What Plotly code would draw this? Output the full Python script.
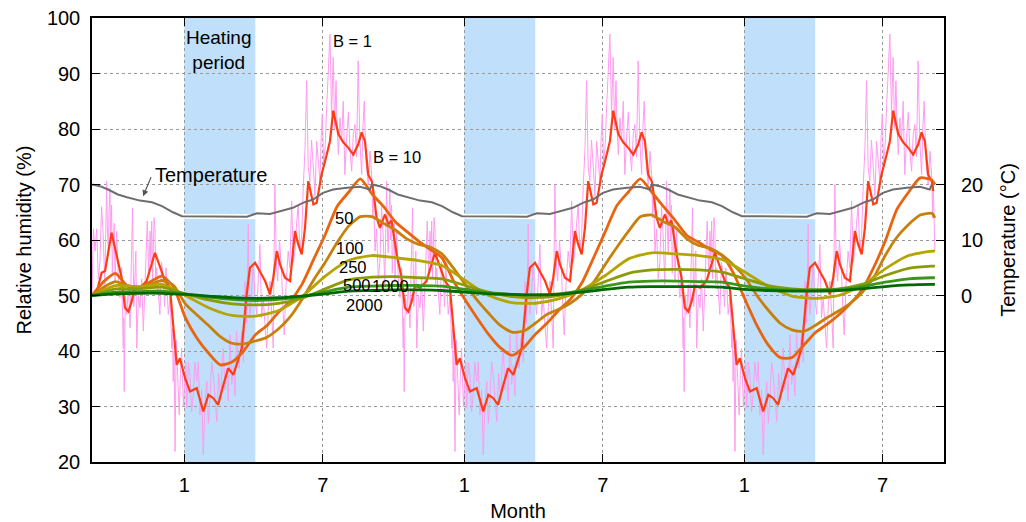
import plotly.graph_objects as go

# ---------------- axis / period definitions (x in months from left edge) ----------------
month_tick_pos = [3.956, 9.89, 15.956, 21.89, 27.956, 33.89]
month_tick_text = ["1", "7", "1", "7", "1", "7"]
heating_start = [3.956, 15.956, 27.956]
heating_end = [7.0, 19.0, 31.0]
data_end = 36.13
cycle_len = 12.0

# ---------------- B = 1 (raw relative humidity), one yearly cycle, repeated ----------------
b1_m = [0.00, 0.03, 0.06, 0.13, 0.20, 0.27, 0.34, 0.41, 0.48, 0.55, 0.63, 0.66, 0.70, 0.73, 0.77,
        0.80, 0.84, 0.87, 0.91, 0.95, 0.99, 1.02, 1.06, 1.13, 1.20, 1.27, 1.34, 1.36, 1.38, 1.43,
        1.49, 1.56, 1.63, 1.68, 1.74, 1.79, 1.84, 1.88, 1.92, 1.99, 2.06, 2.13, 2.20, 2.28, 2.37,
        2.43, 2.49, 2.52, 2.56, 2.60, 2.63, 2.66, 2.70, 2.73, 2.77, 2.84, 2.91, 2.98, 3.06, 3.11,
        3.17, 3.22, 3.27, 3.35, 3.42, 3.45, 3.48, 3.52, 3.56, 3.61, 3.66, 3.70, 3.74, 3.79, 3.84,
        3.92, 3.99, 4.02, 4.06, 4.13, 4.20, 4.27, 4.34, 4.41, 4.49, 4.56, 4.63, 4.70, 4.77, 4.84,
        4.92, 4.99, 5.06, 5.13, 5.20, 5.27, 5.35, 5.43, 5.52, 5.57, 5.63, 5.70, 5.77, 5.84, 5.92,
        5.99, 6.06, 6.13, 6.20, 6.25, 6.31, 6.36, 6.42, 6.49, 6.56, 6.63, 6.70, 6.73, 6.77, 6.84,
        6.91, 6.98, 7.06, 7.13, 7.20, 7.27, 7.34, 7.41, 7.49, 7.56, 7.63, 7.70, 7.77, 7.80, 7.84,
        7.90, 7.96, 8.04, 8.13, 8.18, 8.24, 8.32, 8.41, 8.48, 8.56, 8.63, 8.70, 8.77, 8.84, 8.91,
        8.99, 9.06, 9.13, 9.20, 9.27, 9.34, 9.41, 9.49, 9.56, 9.63, 9.70, 9.77, 9.82, 9.87, 9.93,
        9.99, 10.06, 10.13, 10.20, 10.27, 10.34, 10.40, 10.46, 10.51, 10.56, 10.63, 10.70, 10.77,
        10.84, 10.91, 10.99, 11.06, 11.13, 11.20, 11.27, 11.34, 11.41, 11.48, 11.56, 11.61, 11.67,
        11.75, 11.84, 11.92, 11.99]
b1_rh = [71.0, 64.0, 70.0, 58.0, 62.0, 53.0, 56.0, 66.0, 61.0, 52.0, 70.6, 62.0, 57.7, 65.0, 69.3,
         60.0, 66.3, 54.0, 58.0, 63.0, 52.6, 57.0, 61.6, 53.0, 49.6, 55.0, 40.5, 46.0, 32.7, 50.0,
         46.6, 52.0, 44.2, 55.0, 65.8, 48.0, 52.6, 58.0, 40.5, 50.0, 47.8, 53.0, 43.6, 55.0, 63.4,
         54.0, 61.6, 56.0, 63.4, 53.0, 58.0, 64.0, 62.2, 52.0, 55.0, 50.0, 46.6, 56.0, 53.2, 48.0,
         55.0, 51.0, 46.6, 50.0, 40.5, 44.0, 34.5, 40.0, 21.9, 42.0, 37.5, 32.0, 28.5, 36.0, 40.5,
         30.0, 34.5, 38.0, 29.7, 38.0, 35.7, 29.0, 32.1, 38.0, 34.5, 38.0, 28.5, 33.0, 21.3, 30.0,
         34.5, 27.0, 31.5, 38.0, 35.7, 31.0, 27.3, 36.0, 31.5, 37.0, 40.5, 33.0, 36.9, 31.0, 42.9,
         34.0, 37.5, 32.0, 43.6, 39.0, 36.9, 41.0, 43.6, 38.0, 52.6, 45.0, 62.8, 50.0, 46.6, 51.0,
         55.6, 50.0, 46.6, 53.0, 59.2, 46.0, 49.6, 45.0, 40.5, 48.0, 52.6, 47.0, 40.5, 55.0, 70.0,
         56.0, 52.6, 60.0, 53.8, 48.0, 42.9, 52.0, 58.0, 55.0, 67.0, 56.0, 58.0, 63.0, 66.4, 58.0,
         61.0, 70.0, 76.3, 88.7, 73.0, 70.6, 78.0, 73.0, 68.0, 77.8, 74.0, 70.6, 78.0, 82.6, 74.0,
         76.6, 84.0, 91.7, 97.1, 82.6, 92.9, 80.0, 88.7, 80.0, 75.4, 82.0, 77.8, 85.0,
         71.8, 78.0, 83.0, 76.0, 72.4, 79.0, 80.8, 75.0, 92.3, 78.0, 71.8, 80.0, 85.0,
         74.0, 70.0, 76.0, 71.8]
# very start of the record (first year only)
b1_first_m = [0.00, 0.03, 0.06]
b1_first_rh = [50.0, 56.0, 62.0]

# ---------------- B = 10, one yearly cycle (steady), plus start of the first year ----------------
b10_m = [0.0, 0.06, 0.20, 0.34, 0.56, 0.70, 0.84, 1.06, 1.27, 1.41, 1.56, 1.70, 1.84, 2.06, 2.34,
         2.70, 2.91, 3.13, 3.34, 3.48, 3.63, 3.77, 3.99, 4.20, 4.49, 4.77, 4.99, 5.20, 5.41, 5.63,
         5.84, 6.06, 6.27, 6.42, 6.63, 6.77, 6.99, 7.20, 7.42, 7.63, 7.77, 7.92, 8.06, 8.27, 8.49,
         8.70, 8.84, 8.99, 9.13, 9.27, 9.49, 9.63, 9.84, 9.99, 10.20, 10.34, 10.56, 10.77, 10.99,
         11.20, 11.41, 11.56, 11.70, 11.84]
b10_rh = [70.5, 68.8, 64.0, 62.2, 64.6, 62.8, 63.5, 57.4, 53.2, 47.8, 47.1, 48.9, 51.7, 51.4, 52.6,
          57.7, 55.0, 52.6, 51.4, 45.3, 37.5, 38.7, 35.1, 32.7, 33.3, 29.1, 32.1, 31.5, 30.3, 33.9,
          36.9, 35.7, 38.7, 40.5, 50.2, 55.0, 55.9, 54.4, 52.6, 50.2, 53.2, 58.0, 55.6, 53.2, 52.6,
          61.6, 59.2, 57.4, 62.2, 70.6, 66.4, 66.7, 71.8, 74.2, 77.8, 83.3, 79.1, 77.6, 76.6,
          75.4, 77.2, 79.4, 77.8, 71.8]
b10_first_m = [0.0, 0.20, 0.41, 0.56, 0.84]
b10_first_rh = [50.0, 50.5, 54.1, 54.4, 61.3]

# ---------------- slower responses (half-month grid) ----------------
half_grid_m = [i * 0.5 for i in range(73)] + [36.13]
b50_rh = [50.0, 52.5, 54.0, 51.8, 51.4, 52.5, 53.5, 51.5, 46.0, 42.3, 39.6, 37.5,
          38.0, 40.0, 42.9, 44.6, 47.0, 49.0, 52.0, 56.5, 61.0, 66.0, 68.6, 71.0,
          68.3, 66.0, 63.3, 61.5, 59.8, 58.3, 56.8, 52.6, 49.2, 46.0, 43.0, 40.6,
          39.2, 40.6, 43.0, 45.0, 47.3, 49.3, 52.3, 56.8, 61.5, 66.2, 68.7, 71.0,
          68.6, 66.0, 63.5, 60.8, 59.6, 58.3, 57.2, 54.0, 49.2, 44.6, 41.0, 38.8,
          38.8, 41.0, 43.3, 44.8, 46.5, 48.5, 51.0, 55.0, 59.8, 65.5, 68.6, 71.2,
          70.8, 70.0]
b100_rh = [50.0, 51.5, 52.5, 51.8, 51.5, 52.0, 52.7, 51.8, 48.5, 46.5, 44.6, 42.6,
           41.4, 41.3, 41.8, 42.5, 44.0, 46.2, 49.3, 52.8, 56.0, 59.5, 62.5, 64.2,
           64.2, 63.0, 61.8, 60.2, 59.2, 58.7, 57.5, 54.9, 52.0, 49.2, 46.8, 44.6,
           43.4, 43.6, 45.0, 46.6, 47.5, 48.6, 50.2, 52.4, 55.6, 58.7, 61.6, 64.2,
           64.5, 63.3, 62.3, 60.2, 59.0, 58.5, 57.3, 55.5, 53.2, 50.0, 47.3, 45.0,
           43.8, 43.5, 44.6, 46.0, 47.2, 48.6, 50.5, 53.2, 57.2, 60.5, 62.8, 64.5,
           64.8, 64.0]

# ---------------- slowest responses (monthly grid) ----------------
month_grid_m = [float(i) for i in range(37)] + [36.13]
b250_rh = [50.0, 51.8, 51.6, 52.0, 50.0, 47.8, 46.4, 46.3, 47.3, 49.8, 53.5, 56.3,
           57.2, 56.8, 56.3, 55.4, 52.7, 50.0, 48.7, 48.6, 49.4, 51.0, 53.6, 56.6,
           57.7, 57.5, 57.2, 56.5, 54.2, 51.6, 49.9, 49.5, 50.0, 51.8, 54.8, 57.2,
           58.0, 58.0]
b500_rh = [50.0, 51.2, 51.2, 51.5, 50.3, 49.2, 48.5, 48.3, 48.6, 49.5, 51.2, 52.8,
           53.3, 53.4, 53.2, 53.0, 51.8, 50.6, 49.8, 49.6, 50.0, 51.0, 52.5, 54.0,
           54.6, 54.7, 54.6, 54.2, 53.0, 51.8, 51.2, 51.0, 51.2, 52.0, 53.6, 54.9,
           55.3, 55.3]
b1000_rh = [50.0, 50.6, 50.7, 50.8, 50.3, 49.7, 49.3, 49.1, 49.3, 49.8, 50.7, 51.5,
            51.7, 51.8, 51.8, 51.7, 51.1, 50.5, 50.2, 50.1, 50.3, 50.9, 51.7, 52.4,
            52.6, 52.6, 52.5, 52.4, 51.7, 51.2, 51.0, 51.0, 51.1, 51.6, 52.4, 53.0,
            53.2, 53.2]
b2000_rh = [50.0, 50.3, 50.4, 50.4, 50.2, 49.9, 49.6, 49.5, 49.6, 49.9, 50.3, 50.8,
            50.9, 51.0, 51.0, 50.9, 50.6, 50.3, 50.2, 50.1, 50.2, 50.6, 51.1, 51.5,
            51.6, 51.6, 51.6, 51.5, 51.1, 50.9, 50.8, 50.8, 50.9, 51.2, 51.6, 51.9,
            52.0, 52.0]

# ---------------- temperature (°C), one yearly cycle, repeated ----------------
temp_m = [0.0, 0.34, 0.69, 1.11, 1.50, 2.06, 2.57, 3.00, 3.47, 3.86, 6.64, 7.07, 7.63, 8.06,
          8.61, 9.04, 9.47, 9.90, 10.33, 10.93, 11.49, 11.91]
temp_c = [20.0, 19.7, 19.1, 18.2, 17.7, 17.1, 16.8, 16.1, 15.0, 14.3, 14.2, 14.8, 14.7, 15.2,
          15.8, 16.7, 17.3, 18.5, 19.1, 19.4, 19.6, 19.1]


def repeat_cycle(m, v, n=4, end=data_end):
    xs, ys = [], []
    for k in range(n):
        for a, b in zip(m, v):
            x = a + cycle_len * k
            if x <= end:
                xs.append(x)
                ys.append(b)
    return xs, ys


def with_first_year_start(first_m, first_v, cyc_x, cyc_y):
    cut = first_m[-1]
    xs = list(first_m) + [x for x in cyc_x if x > cut]
    ys = list(first_v) + [y for x, y in zip(cyc_x, cyc_y) if x > cut]
    return xs, ys


b1_cx, b1_cy = repeat_cycle(b1_m, b1_rh)
b1_x, b1_y = with_first_year_start(b1_first_m, b1_first_rh, b1_cx, b1_cy)
b10_cx, b10_cy = repeat_cycle(b10_m, b10_rh)
b10_x, b10_y = with_first_year_start(b10_first_m, b10_first_rh, b10_cx, b10_cy)
t_x, t_y = repeat_cycle(temp_m, temp_c)

fig = go.Figure()

for s, e in zip(heating_start, heating_end):
    fig.add_shape(type="rect", xref="x", yref="paper", x0=s, x1=e, y0=0, y1=1,
                  fillcolor="#bfdffb", line_width=0, layer="below")

fig.add_trace(go.Scatter(x=b1_x, y=b1_y, mode="lines",
                         line=dict(color="#ff9cf0", width=1), hoverinfo="skip"))
fig.add_trace(go.Scatter(x=b10_x, y=b10_y, mode="lines",
                         line=dict(color="#ff3c14", width=2.2), hoverinfo="skip"))

slow = [
    (half_grid_m, b50_rh, "#e8640e"),
    (half_grid_m, b100_rh, "#c8800c"),
    (month_grid_m, b250_rh, "#b4a404"),
    (month_grid_m, b500_rh, "#8c9c08"),
    (month_grid_m, b1000_rh, "#3c961c"),
    (month_grid_m, b2000_rh, "#006a00"),
]
for xm, ys, col in slow:
    fig.add_trace(go.Scatter(x=xm, y=ys, mode="lines",
                             line=dict(color=col, width=2.8, shape="spline", smoothing=0.6),
                             hoverinfo="skip"))

# white halo of the temperature curve within heating periods
for s, e in zip(heating_start, heating_end):
    hx = [x for x in t_x if s - 0.15 <= x <= e]
    hy = [y for x, y in zip(t_x, t_y) if s - 0.15 <= x <= e]
    fig.add_trace(go.Scatter(x=[s] + hx + [e], y=[hy[0]] + hy + [hy[-1]], yaxis="y2", mode="lines",
                             line=dict(color="white", width=5), hoverinfo="skip"))
fig.add_trace(go.Scatter(x=t_x, y=t_y, yaxis="y2", mode="lines",
                         line=dict(color="#6e6e6e", width=2), hoverinfo="skip"))

font_family = "Liberation Sans, Arial, sans-serif"
big = dict(showarrow=False, font=dict(size=20, color="black", family=font_family))
small = dict(showarrow=False, font=dict(size=16.5, color="black", family=font_family))
annotations = [
    dict(x=5.44, y=94.2, text="Heating<br>period", showarrow=False,
         font=dict(size=19, color="black", family=font_family)),
    dict(x=11.17, y=95.9, text="B = 1", **small),
    dict(x=13.09, y=75.0, text="B = 10", **small),
    dict(x=5.08, y=71.8, text="Temperature", **big),
    dict(x=10.8, y=64.0, text="50", **small),
    dict(x=11.06, y=58.55, text="100", **small),
    dict(x=11.2, y=55.2, text="250", **small),
    dict(x=11.35, y=51.85, text="500", **small),
    dict(x=12.8, y=51.8, text="1000", **small),
    dict(x=11.7, y=48.3, text="2000", **small),
    dict(x=2.19, y=67.9, ax=2.56, ay=71.6, axref="x", ayref="y", text="", showarrow=True,
         arrowhead=2, arrowsize=1, arrowwidth=1.2, arrowcolor="#555555"),
]

fig.update_layout(
    width=1026, height=522,
    margin=dict(l=92, r=82, t=18, b=60),
    paper_bgcolor="white", plot_bgcolor="white",
    showlegend=False,
    font=dict(family=font_family, size=20, color="black"),
    annotations=annotations,
    xaxis=dict(range=[0, 36.52], tickmode="array", tickvals=month_tick_pos, ticktext=month_tick_text,
               ticks="inside", ticklen=8, tickcolor="black", showline=True, linecolor="black",
               linewidth=1.5, mirror="ticks", showgrid=True, gridcolor="#999999", griddash="dot",
               gridwidth=1, zeroline=False, tickfont=dict(size=20), automargin=False,
               title=dict(text="Month", standoff=20, font=dict(size=20)),
               ticklabelstandoff=4),
    yaxis=dict(range=[20, 100], tickmode="array", tickvals=[20, 30, 40, 50, 60, 70, 80, 90, 100],
               ticks="inside", ticklen=8, tickcolor="black", showline=True, linecolor="black",
               linewidth=1.5, mirror="ticks", showgrid=True, gridcolor="#999999", griddash="dot",
               gridwidth=1, zeroline=False, tickfont=dict(size=20), automargin=False,
               title=dict(text="Relative humidity (%)", standoff=10, font=dict(size=20)),
               ticklabelstandoff=6),
    yaxis2=dict(range=[-30, 50], overlaying="y", side="right", tickmode="array",
                tickvals=[0, 10, 20], ticks="", showgrid=False, zeroline=False, showline=False,
                tickfont=dict(size=20), ticklabelstandoff=16, automargin=False,
                title=dict(text="Temperature (°C)", standoff=18, font=dict(size=20))),
)

fig.write_html("out.html")
